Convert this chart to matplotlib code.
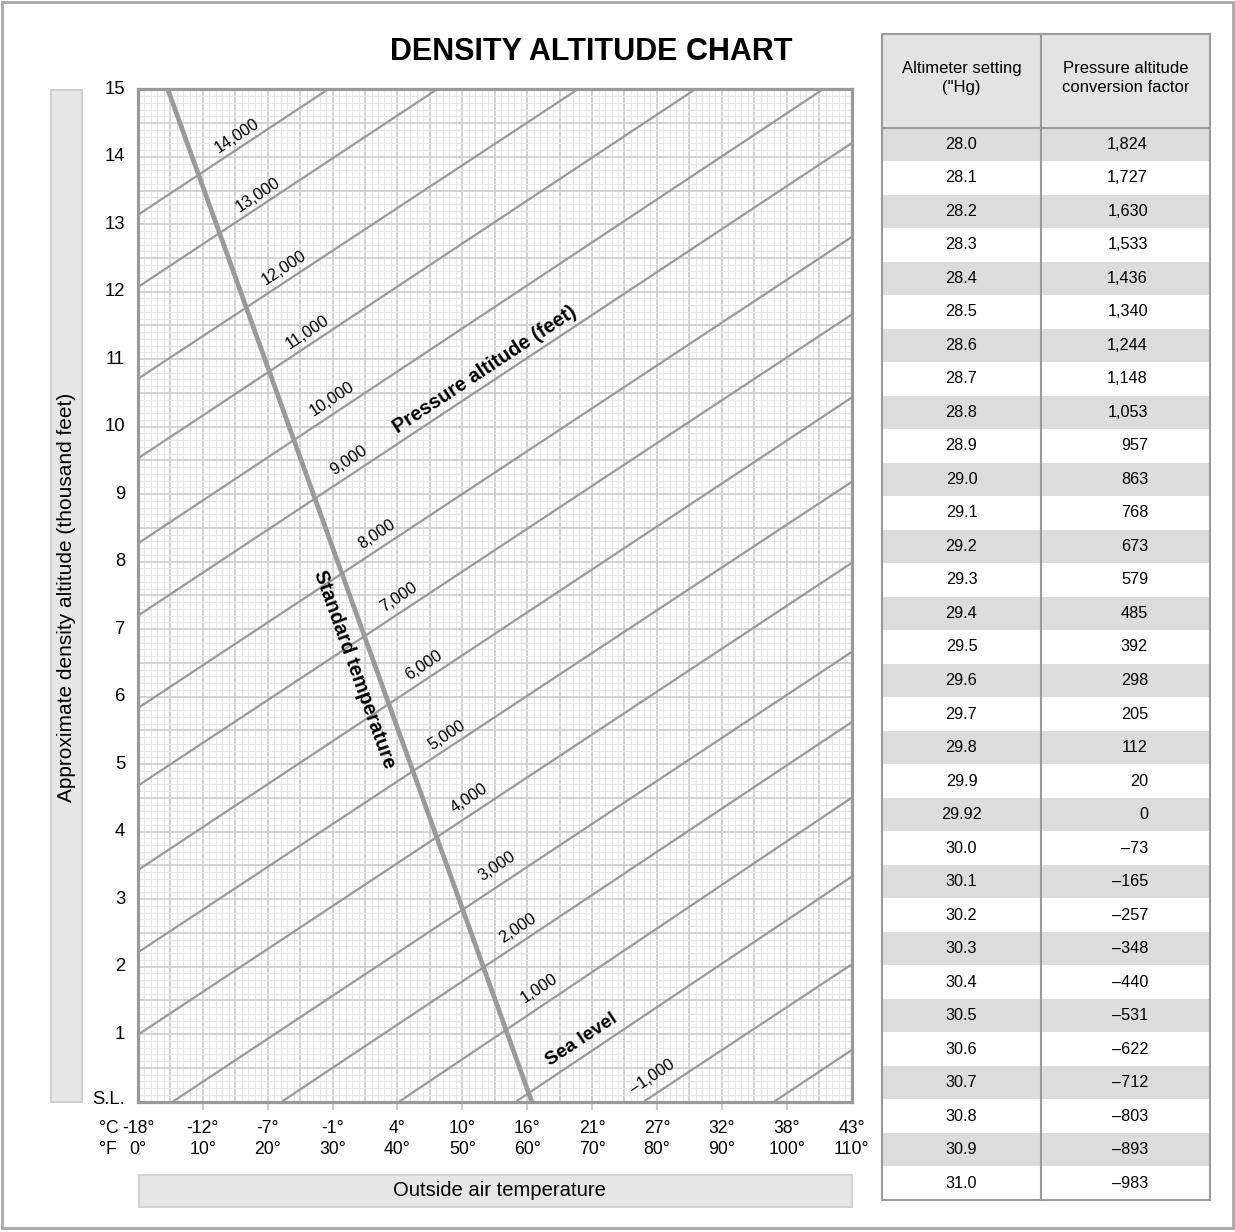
import numpy as np
import matplotlib
matplotlib.use("Agg")
import matplotlib.pyplot as plt
from matplotlib.patches import Rectangle

plt.rcParams['font.family'] = ['Liberation Sans', 'DejaVu Sans']

# ---------------- data ----------------
temp_F_ticks = [0, 10, 20, 30, 40, 50, 60, 70, 80, 90, 100, 110]
temp_C_labels = ["-18°", "-12°", "-7°", "-1°", "4°", "10°", "16°", "21°", "27°", "32°", "38°", "43°"]
temp_F_labels = ["0°", "10°", "20°", "30°", "40°", "50°", "60°", "70°", "80°", "90°", "100°", "110°"]
alt_ticks = list(range(0, 16))
alt_labels = ["S.L."] + [str(i) for i in range(1, 16)]

# pressure-altitude lines (temperature °F, density altitude thousand ft)
pa_labels = ["14,000", "13,000", "12,000", "11,000", "10,000", "9,000", "8,000", "7,000",
             "6,000", "5,000", "4,000", "3,000", "2,000", "1,000", "Sea level", "\u20131,000", ""]
pa_start_T = [0, 0, 0, 0, 0, 0, 0, 0, 0, 0, 0, 5.4, 22.2, 40.3, 58.3, 78.0, 98.1]
pa_start_DA = [13.14, 12.07, 10.71, 9.53, 8.27, 7.20, 5.83, 4.68, 3.43, 2.21, 0.99, 0, 0, 0, 0, 0, 0]
pa_end_T = [29.3, 46.1, 67.8, 85.9, 105.6, 110, 110, 110, 110, 110, 110, 110, 110, 110, 110, 110, 110]
pa_end_DA = [15, 15, 15, 15, 15, 14.20, 12.81, 11.66, 10.43, 9.18, 7.98, 6.66, 5.62, 4.50, 3.33, 2.03, 0.76]

# label anchor points along the lines
lab_T = [15.22, 18.45, 22.51, 26.06, 29.91, 32.43, 36.74, 40.20, 44.00, 47.64, 51.06, 55.25,
         58.51, 61.86, 68.41, 79.32]
lab_DA = [14.31, 13.44, 12.35, 11.40, 10.42, 9.50, 8.40, 7.48, 6.47, 5.43, 4.50, 3.48,
          2.57, 1.67, 0.92, 0.36]

std_T = [4.6, 60.7]
std_DA = [15.0, 0.0]

altimeter = ["28.0", "28.1", "28.2", "28.3", "28.4", "28.5", "28.6", "28.7", "28.8", "28.9",
             "29.0", "29.1", "29.2", "29.3", "29.4", "29.5", "29.6", "29.7", "29.8", "29.9",
             "29.92", "30.0", "30.1", "30.2", "30.3", "30.4", "30.5", "30.6", "30.7", "30.8",
             "30.9", "31.0"]
conversion = [1824, 1727, 1630, 1533, 1436, 1340, 1244, 1148, 1053, 957, 863, 768, 673, 579,
              485, 392, 298, 205, 112, 20, 0, -73, -165, -257, -348, -440, -531, -622, -712,
              -803, -893, -983]

# ---------------- figure ----------------
W, H = 1235, 1232
fig = plt.figure(figsize=(W / 100, H / 100), dpi=100)

ov = fig.add_axes([0, 0, 1, 1])
ov.set_xlim(0, W)
ov.set_ylim(H, 0)
ov.axis('off')

GRAY = '#9a9a9a'

# main chart axes (pixel box 138..851.5, 89.3..1101.5)
L, R, T_, B = 138, 851.5, 89.3, 1101.5
ax = fig.add_axes([L / W, 1 - B / H, (R - L) / W, (B - T_) / H])
ax.set_xlim(0, 110)
ax.set_ylim(0, 15)
ax.set_xticks(np.arange(0, 111, 5))
ax.set_xticks(np.arange(0, 111, 1), minor=True)
ax.set_yticks(np.arange(0, 15.01, 0.5))
ax.set_yticks(np.arange(0, 15.01, 0.1), minor=True)
ax.grid(which='minor', color='#e7e7e7', lw=0.8)
ax.grid(which='major', color='#d0d0d0', lw=1.3)
ax.tick_params(which='both', length=0, labelbottom=False, labelleft=False)
ax.set_axisbelow(True)
for s in ax.spines.values():
    s.set_color(GRAY)
    s.set_linewidth(2.3)

# pressure altitude lines
for i in range(len(pa_start_T)):
    ax.plot([pa_start_T[i], pa_end_T[i]], [pa_start_DA[i], pa_end_DA[i]],
            color=GRAY, lw=1.6, solid_capstyle='butt', zorder=3)

# standard temperature line
ax.plot(std_T, std_DA, color=GRAY, lw=3.4, solid_capstyle='butt', zorder=4)

fig.canvas.draw()


def screen_angle(x0, y0, x1, y1):
    p = ax.transData.transform([[x0, y0], [x1, y1]])
    return np.degrees(np.arctan2(p[1, 1] - p[0, 1], p[1, 0] - p[0, 0]))


pa_angle = screen_angle(pa_start_T[6], pa_start_DA[6], pa_end_T[6], pa_end_DA[6])
for i in range(len(lab_T)):
    bold = pa_labels[i] == "Sea level"
    ax.text(lab_T[i], lab_DA[i], pa_labels[i], rotation=pa_angle, rotation_mode='anchor',
            ha='center', va='center', fontsize=13.8 if bold else 11.8,
            fontweight='bold' if bold else 'normal', zorder=5)

ax.text(53.5, 10.84, "Pressure altitude (feet)", rotation=pa_angle, rotation_mode='anchor',
        ha='center', va='center', fontsize=14.3, fontweight='bold', zorder=5)
std_angle = screen_angle(std_T[0], std_DA[0], std_T[1], std_DA[1])
ax.text(33.3, 6.41, "Standard temperature", rotation=std_angle, rotation_mode='anchor',
        ha='center', va='center', fontsize=14.5, fontweight='bold', zorder=5)

# y tick labels
ytr = ax.get_yaxis_transform()
for v, lab in zip(alt_ticks, alt_labels):
    ax.text(-0.018, v + (0.03 if v == 0 else 0), lab, transform=ytr, ha='right', va='center',
            fontsize=13.3)

# x tick labels and ticks
xtr = ax.get_xaxis_transform()
for t, c, f in zip(temp_F_ticks, temp_C_labels, temp_F_labels):
    ax.text(t, -0.0262, c, transform=xtr, ha='center', va='center', fontsize=12.7)
    ax.text(t, -0.047, f, transform=xtr, ha='center', va='center', fontsize=12.7)
    if 0 < t < 110:
        ax.plot([t, t], [0, -0.0078], transform=xtr, color='#cccccc', lw=1.5, clip_on=False)
ax.text(-0.054, -0.0262, "°C", transform=ax.transAxes, ha='left', va='center', fontsize=12.7)
ax.text(-0.054, -0.047, "°F", transform=ax.transAxes, ha='left', va='center', fontsize=12.7)

# ---------------- overlay: title, label boxes, border ----------------
ov.text(591, 52, "DENSITY ALTITUDE CHART", ha='center', va='center', fontsize=22,
        fontweight='bold')
ov.add_patch(Rectangle((51, 89.5), 31, 1012, fc='#e6e6e6', ec='#d2d2d2', lw=1.5))
ov.text(66.5, 597, "Approximate density altitude (thousand feet)", rotation=90,
        ha='center', va='center', fontsize=15)
ov.add_patch(Rectangle((138.5, 1175), 713, 32, fc='#e6e6e6', ec='#d2d2d2', lw=1.5))
ov.text(499, 1191, "Outside air temperature", ha='center', va='center', fontsize=14.6)
ov.add_patch(Rectangle((1.5, 1.5), 1231, 1226.5, fc='none', ec='#a8a8a8', lw=2))

# ---------------- table ----------------
tx0, tx1, txm = 882, 1210, 1041
ty0, thead = 34, 127.5
rh = (1200 - thead) / len(altimeter)
ov.add_patch(Rectangle((tx0, ty0), tx1 - tx0, thead - ty0, fc='#e3e3e3', ec='none'))
ov.text((tx0 + txm) / 2, 78, "Altimeter setting\n(\"Hg)", ha='center', va='center',
        fontsize=12, linespacing=1.35)
ov.text((txm + tx1) / 2, 78, "Pressure altitude\nconversion factor", ha='center',
        va='center', fontsize=12, linespacing=1.35)
for i, (a, c) in enumerate(zip(altimeter, conversion)):
    y0 = thead + i * rh
    if i % 2 == 0:
        ov.add_patch(Rectangle((tx0, y0), tx1 - tx0, rh, fc='#dcdcdc', ec='none'))
    cs = f"{abs(c):,}"
    if c < 0:
        cs = "\u2013" + cs
    ov.text((tx0 + txm) / 2, y0 + rh / 2, a, ha='center', va='center', fontsize=11.7)
    ov.text(1148, y0 + rh / 2, cs, ha='right', va='center', fontsize=11.7)
ov.add_patch(Rectangle((tx0, ty0), tx1 - tx0, 1200 - ty0, fc='none', ec='#9a9a9a', lw=1.5))
ov.plot([txm, txm], [ty0, 1200], color='#9a9a9a', lw=1.5)
ov.plot([tx0, tx1], [thead, thead], color='#9a9a9a', lw=1.5)

fig.savefig("out.png", dpi=100)
